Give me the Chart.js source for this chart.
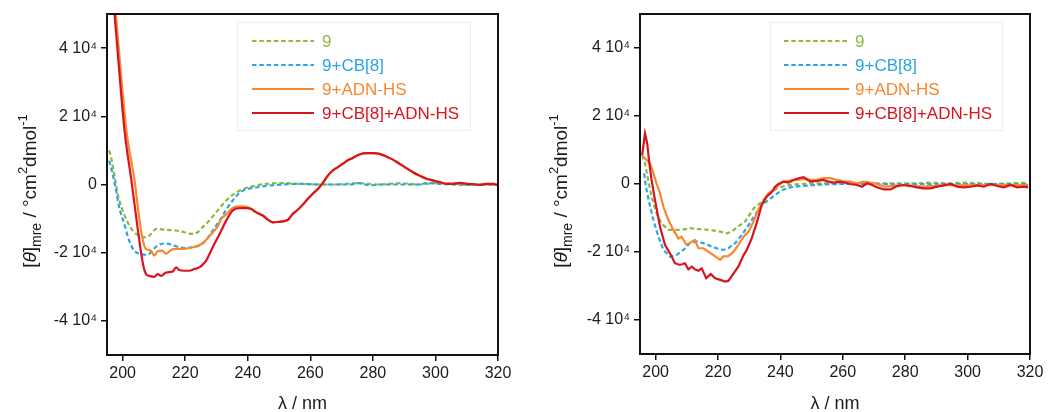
<!DOCTYPE html>
<html><head><meta charset="utf-8">
<script src="https://cdn.jsdelivr.net/npm/chart.js@4/dist/chart.umd.min.js"></script>
<style>
body{margin:0;background:#fff;}
.w{position:absolute;top:0;width:524px;height:412px;}
</style></head><body>
<div class="w" style="left:0"><canvas id="c1" width="524" height="412"></canvas></div>
<div class="w" style="left:524px"><canvas id="c2" width="524" height="412"></canvas></div>
<script>
// ---------- tick labels ----------
const xTickVals = [200, 220, 240, 260, 280, 300, 320];
const yTickVals = [-40000, -20000, 0, 20000, 40000];
const yTickLabels = ['-4 10⁴', '-2 10⁴', '0', '2 10⁴', '4 10⁴'];
const seriesNames = ['9', '9+CB[8]', '9+ADN-HS', '9+CB[8]+ADN-HS'];

// ---------- left panel ----------
const leftLam9 = [195.7,196.3,197.3,198.4,200,201.6,203.2,205.3,207.5,209.1,210.7,213.9,217,219.7,222.4,224,225.6,227.7,230.4,233.1,235.7,239.5,242.7,245.9,251.2,256.5,262.9,267.2,275.7,282.1,288.5,294.9,299.2,305.6,312,319.7];
const leftVal9 = [10000,8000,3100,-2700,-7600,-11100,-13500,-15000,-15500,-14500,-13000,-13300,-13500,-14000,-14500,-14000,-12500,-10600,-7600,-4700,-2700,-1000,-300,200,400,200,0,0,400,0,400,0,400,200,-100,200];

const leftLamCB = [195.7,196.8,197.9,198.9,200.5,202.1,203.7,205.9,208,209.6,211.2,213.3,215.5,218.1,220.3,222.4,224.5,226.7,228.8,231,233.1,235.2,237.3,240,243.2,246.9,251.2,256.5,262.9,267.2,272.5,275.7,278.9,282.1,288.5,294.9,297.1,301.3,305.6,312,319.7];
const leftValCB = [7000,3100,-1800,-6700,-11500,-16500,-19400,-20400,-20600,-19200,-17900,-17300,-17600,-18400,-18600,-18400,-17900,-16300,-13500,-10600,-7400,-4700,-2500,-1300,-800,-300,0,200,0,0,0,400,-300,0,0,0,400,200,0,-100,0];

const leftLamADN = [197.2,197.8,201.2,203.8,205.4,206.5,207.4,209.1,210.1,211.2,212.6,213.9,215.5,217,219.2,220.8,222.4,224,225.6,227.2,228.8,230.4,231.5,233.1,234.7,236.3,238.4,240,241.1,242.5,244.8,246.4,248,249.6,251.2,252.8,254.4,256,257.6,259.2,260.8,262.4,264,265.6,267.2,268.8,270.4,272,273.6,275.7,277.9,280,282.1,284.3,286.4,288.5,290.7,292.8,294.9,297.1,299.2,301.3,303.5,305.6,307.7,309.9,312,314.1,316.3,318.4,319.7];
const leftValADN = [56000,50000,15900,1200,-10600,-16500,-18900,-19400,-20900,-19600,-19400,-20300,-19200,-18900,-18900,-18700,-18400,-18000,-17200,-15700,-14000,-12300,-10100,-8800,-7200,-6500,-6400,-6600,-7100,-8000,-9100,-10300,-11100,-11000,-10800,-10400,-8600,-7400,-5900,-4200,-2700,-1300,500,2600,4100,5100,6100,7100,7800,8800,9200,9200,9000,8200,7300,6100,4800,3600,2600,1700,1200,700,200,200,500,200,100,-100,200,300,0];

const leftLamAll = [196.8,197.4,200.6,202.8,204.9,206.5,207.5,208.5,210.1,211.2,212.3,213.9,216,217.1,218.1,219.7,221.3,222.9,224.5,225.6,226.7,227.7,228.8,231,233.1,235.2,237.3,239.5,241.1,242.5,244.8,246.4,248,249.6,251.2,252.8,254.4,256,257.6,259.2,260.8,262.4,264,265.6,267.2,268.8,270.4,272,273.6,275.7,277.9,280,282.1,284.3,286.4,288.5,290.7,292.8,294.9,297.1,299.2,301.3,303.5,305.6,307.7,309.9,312,314.1,316.3,318.4,319.7];
const leftValAll = [56000,50000,15900,1200,-13500,-23300,-26300,-26800,-27100,-26300,-26800,-25800,-25500,-24300,-25100,-25300,-25300,-24800,-24300,-23500,-22300,-20500,-18400,-14500,-10600,-7600,-6900,-6900,-7200,-8100,-9100,-10300,-11100,-11000,-10800,-10400,-8600,-7400,-5900,-4200,-2700,-1300,500,2600,4100,5100,6100,7100,7800,8800,9200,9200,9000,8200,7300,6100,4800,3600,2600,1700,1200,700,200,200,500,200,100,-100,200,100,-100];

// ---------- right panel ----------
const rightLam9 = [195.7,196.6,197.6,198.7,200.3,201.9,204.1,206.2,208.3,211,214.2,217.4,220.7,222.8,224.4,226.5,228.7,231.4,234,236.7,238.9,242.1,246.4,251.7,258.1,264.5,271.1,277.4,283.8,288.1,294.5,299.9,307.4,313.8,319.4];
const rightVal9 = [8500,6100,1200,-3700,-8600,-11600,-13500,-13500,-13500,-13000,-13300,-13500,-14000,-14500,-14000,-12500,-11000,-7200,-5200,-2700,-1300,-400,0,200,200,0,200,200,200,400,200,400,0,200,400];

const rightLamCB = [196.3,196.9,198,199.3,200.9,202.5,204.6,206.7,208.9,211,213.2,215.3,217.4,219.6,221.7,223.3,225.5,227.6,229.8,231.9,234,236.2,238.3,240.5,243.1,246.4,249.6,253.8,259.2,264.5,271.1,277.4,283.8,290.2,296.7,303.1,309.5,315.9,319.4];
const rightValCB = [3100,-800,-5700,-10600,-15500,-19400,-21400,-20900,-19400,-17400,-16900,-17400,-18200,-18900,-19400,-18900,-17400,-15000,-12100,-9100,-6200,-4700,-3200,-1800,-1000,-600,-400,-100,0,0,0,-100,0,0,0,-100,0,-100,0];

const rightLamADN = [196,197.1,198.2,199.3,200.3,201.4,202.5,204.1,205.7,207.3,208.3,209.9,211.6,212.6,213.7,215.3,216.9,218.5,220.7,221.7,223.3,225,226.5,228.2,229.8,231.4,233,234.6,236.2,237.8,239.4,241,242.6,244.2,245.8,247.4,249.6,251.7,253.8,256,258.1,260.3,262.4,264.5,266.7,268.8,271.1,273.2,275.3,279.5,285.9,292.4,296.7,303.1,309.5,315.9,319.4];
const rightValADN = [8000,7100,6100,3100,200,-2700,-6700,-10600,-13500,-16000,-15500,-17900,-17000,-16500,-18900,-18900,-19900,-20900,-22300,-21300,-21200,-19900,-17900,-15500,-14000,-11000,-7400,-4800,-2700,-1800,-300,700,900,1200,1200,1500,1200,1200,1700,1700,1200,700,700,200,700,400,0,-800,-600,-300,-800,-300,-400,-300,-300,-300,-300];

const rightLamAll = [195.7,196.6,197.3,198,198.7,199.8,201.4,203,204.6,206.2,207.8,209.4,210.5,211.6,212.6,213.7,214.8,216.2,217.7,219.1,220.7,222.3,223.3,225,226.5,228.2,229.2,230.8,232.4,234,235.6,237.3,238.3,239.4,241,242.6,244.2,245.8,247.4,248.5,249.6,251.7,253.8,255.4,257.1,259.2,260.8,262.4,264.5,266.2,267.8,269.4,271.1,273.2,275.3,277.4,279.5,281.7,283.8,285.9,288.1,290.2,292.4,294.5,296.7,298.8,300.9,303.1,305.2,307.4,309.5,311.6,313.8,315.9,318.1,319.4];
const rightValAll = [8500,14900,12000,6100,1200,-4700,-12500,-17900,-20400,-23300,-23800,-23300,-25100,-24300,-25100,-25500,-24800,-27700,-26500,-27700,-28200,-28700,-28500,-26300,-24300,-20900,-19400,-16000,-11500,-6200,-3700,-2300,-800,0,700,400,1200,1700,2000,1400,700,900,1200,700,400,700,400,0,-300,-800,200,-300,-1000,-1600,-1600,-600,-300,-600,-1000,-1300,-1300,-800,-400,0,-800,-1000,-800,-400,-800,0,-600,-1000,-300,-1000,-800,-1000];

// ---------- styling ----------
const FONT = '"Liberation Sans", Arial, Helvetica, sans-serif';
const COLORS = ['#8fb83f', '#2ba6e0', '#f7882f', '#d7151e'];
const DASHES = [[4.5, 2.8], [4.5, 2.8], [], []];

function pts(xs, ys) { return xs.map((x, i) => ({ x: x, y: ys[i] })); }

function makeDatasets(groups, smooth) {
  return groups.map((g, i) => ({
    label: seriesNames[i],
    data: pts(g[0], g[1]),
    order: groups.length - 1 - i,
    borderColor: COLORS[i],
    backgroundColor: COLORS[i],
    borderWidth: 2.2,
    borderDash: DASHES[i],
    pointRadius: 0,
    fill: false,
    tension: smooth ? 0.35 : 0,
    cubicInterpolationMode: smooth ? 'monotone' : 'default'
  }));
}

const decorPlugin = {
  id: 'decor',
  afterDatasetsDraw(chart) {
    const o = chart.options.plugins.decor;
    const ctx = chart.ctx, a = chart.chartArea;
    ctx.save();
    // frame
    ctx.strokeStyle = '#111';
    ctx.lineWidth = 2;
    ctx.strokeRect(a.left, a.top, a.right - a.left, a.bottom - a.top);
    // legend box
    ctx.strokeStyle = '#ececec';
    ctx.lineWidth = 1;
    ctx.strokeRect(o.box[0] + 0.5, o.box[1] + 0.5, o.box[2], o.box[3]);
    // legend entries
    chart.data.datasets.forEach((ds, i) => {
      const y = o.rows[i];
      ctx.strokeStyle = ds.borderColor;
      ctx.lineWidth = 2.2;
      ctx.setLineDash(ds.borderDash || []);
      ctx.beginPath();
      ctx.moveTo(o.line[0], y);
      ctx.lineTo(o.line[1], y);
      ctx.stroke();
      ctx.setLineDash([]);
      ctx.fillStyle = ds.borderColor;
      ctx.font = '17px ' + FONT;
      ctx.textBaseline = 'middle';
      ctx.textAlign = 'left';
      ctx.fillText(ds.label, o.textX, y + 1);
    });
    // x title
    ctx.fillStyle = '#1a1a1a';
    ctx.font = '18px ' + FONT;
    ctx.textAlign = 'center';
    ctx.textBaseline = 'middle';
    ctx.fillText('λ / nm', (a.left + a.right) / 2, o.xTitleY);
    // y title (rotated, rich text)
    const segs = [
      { t: '[', s: 19, dy: 0 },
      { t: 'θ', s: 19, dy: 0, it: true },
      { t: ']', s: 19, dy: 0 },
      { t: 'mre', s: 14, dy: 6 },
      { t: ' / °cm', s: 19, dy: 0 },
      { t: '2', s: 13, dy: -8 },
      { t: 'dmol', s: 19, dy: 0 },
      { t: '-1', s: 13, dy: -8 }
    ];
    const fontOf = g => (g.it ? 'italic ' : '') + g.s + 'px ' + FONT;
    let total = 0;
    segs.forEach(g => { ctx.font = fontOf(g); g.w = ctx.measureText(g.t).width; total += g.w; });
    ctx.translate(o.yTitle[0], o.yTitle[1]);
    ctx.rotate(-Math.PI / 2);
    ctx.textAlign = 'left';
    ctx.textBaseline = 'middle';
    let x = -total / 2;
    segs.forEach(g => {
      ctx.font = fontOf(g);
      ctx.fillText(g.t, x, g.dy);
      x += g.w;
    });
    ctx.restore();
  }
};

function makeChart(id, groups, smooth, pad, yW, xH, decor) {
  return new Chart(document.getElementById(id), {
    type: 'line',
    data: { datasets: makeDatasets(groups, smooth) },
    options: {
      responsive: false,
      animation: false,
      events: [],
      layout: { padding: pad },
      plugins: { legend: { display: false }, tooltip: { enabled: false }, decor: decor },
      scales: {
        x: {
          type: 'linear', min: 195, max: 320,
          afterBuildTicks: s => { s.ticks = xTickVals.map(v => ({ value: v })); },
          afterFit: s => { s.height = xH; },
          border: { display: false },
          grid: { drawOnChartArea: false, drawTicks: true, tickLength: 6, color: '#111', lineWidth: 1.5 },
          ticks: { color: '#1a1a1a', font: { family: FONT, size: 16 }, padding: 3, maxRotation: 0, autoSkip: false }
        },
        y: {
          type: 'linear', min: -50000, max: 50000,
          afterBuildTicks: s => { s.ticks = yTickVals.map(v => ({ value: v })); },
          afterFit: s => { s.width = yW; },
          border: { display: false },
          grid: { drawOnChartArea: false, drawTicks: true, tickLength: 6, color: '#111', lineWidth: 1.5 },
          ticks: {
            color: '#1a1a1a', font: { family: FONT, size: 16 }, padding: 4, autoSkip: false,
            callback: v => { const k = yTickVals.indexOf(v); return k >= 0 ? yTickLabels[k] : ''; }
          }
        }
      }
    },
    plugins: [decorPlugin]
  });
}

makeChart('c1',
  [[leftLam9, leftVal9], [leftLamCB, leftValCB], [leftLamADN, leftValADN], [leftLamAll, leftValAll]],
  true, { left: 0, top: 14, right: 26, bottom: 0 }, 107, 57,
  { box: [237, 22, 233, 108], line: [252, 314], textX: 322, rows: [41, 65, 89, 113], xTitleY: 404, yTitle: [31, 191] });

makeChart('c2',
  [[rightLam9, rightVal9], [rightLamCB, rightValCB], [rightLamADN, rightValADN], [rightLamAll, rightValAll]],
  false, { left: 0, top: 14, right: 18, bottom: 0 }, 116, 58,
  { box: [246, 22, 232, 108], line: [260, 325], textX: 331, rows: [41, 65, 89, 113], xTitleY: 404, yTitle: [38, 191] });
</script>
</body></html>
